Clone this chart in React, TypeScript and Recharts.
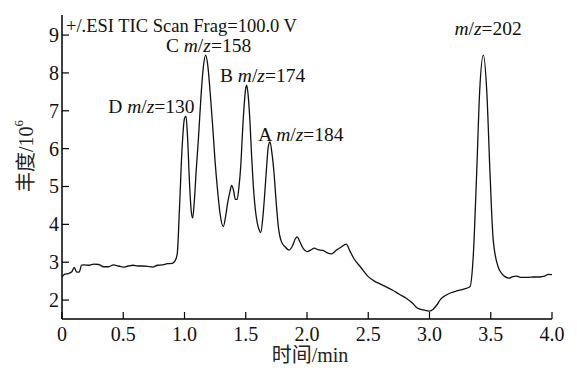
import { LineChart, Line, XAxis, YAxis, ReferenceDot } from "recharts";

// retention time (min) and abundance (x10^6)
const tiempos = [
  0, 0.02, 0.05, 0.08, 0.1, 0.12, 0.14, 0.16, 0.18, 0.22, 0.26, 0.3, 0.34, 0.38, 0.42, 0.46, 0.5,
  0.54, 0.58, 0.62, 0.66, 0.7, 0.74, 0.78, 0.82, 0.86, 0.9, 0.92, 0.94, 0.96, 0.98, 1.0, 1.012,
  1.025, 1.04, 1.055, 1.067, 1.08, 1.095, 1.113, 1.135, 1.154, 1.173, 1.19, 1.208, 1.23, 1.249,
  1.27, 1.29, 1.317, 1.335, 1.352, 1.37, 1.385, 1.4, 1.415, 1.43, 1.445, 1.459, 1.473, 1.486, 1.5,
  1.508, 1.52, 1.535, 1.548, 1.562, 1.578, 1.594, 1.61, 1.622, 1.64, 1.657, 1.672, 1.684, 1.698,
  1.713, 1.731, 1.748, 1.766, 1.79, 1.82, 1.855, 1.88, 1.905, 1.92, 1.94, 1.97, 2.0, 2.03, 2.06,
  2.09, 2.13, 2.17, 2.2, 2.24, 2.28, 2.32, 2.35, 2.38, 2.44, 2.5, 2.55, 2.6, 2.65, 2.7, 2.75, 2.81,
  2.86, 2.9, 2.95, 3.0, 3.03, 3.06, 3.09, 3.13, 3.18, 3.22, 3.28, 3.33, 3.357, 3.385, 3.41, 3.44,
  3.467, 3.494, 3.52, 3.56, 3.59, 3.616, 3.65, 3.68, 3.71, 3.75, 3.8, 3.85, 3.9, 3.94, 3.97, 4.0,
];

const abundancias = [
  2.62, 2.68, 2.7, 2.75, 2.86, 2.74, 2.74, 2.92, 2.93, 2.92, 2.95, 2.94, 2.88, 2.88, 2.93, 2.9, 2.87,
  2.9, 2.92, 2.9, 2.9, 2.89, 2.87, 2.92, 2.93, 2.96, 2.97, 3.02, 3.2, 4.5, 6.0, 6.8, 6.86,
  6.3, 5.16, 4.35, 4.17, 4.6, 5.4, 6.23, 7.4, 8.16, 8.47, 8.2, 7.55, 6.6, 5.69,
  4.9, 4.29, 3.94, 4.2, 4.56, 4.85, 5.03, 4.9, 4.66, 4.66, 5.0, 5.53, 6.4, 7.1, 7.6,
  7.68, 7.4, 6.67, 5.8, 5.0, 4.4, 4.04, 3.85, 3.78, 4.2, 4.9, 5.6, 6.05, 6.18,
  5.9, 5.35, 4.6, 3.94, 3.55, 3.41, 3.32, 3.42, 3.62, 3.67, 3.55, 3.36, 3.28, 3.32, 3.37,
  3.33, 3.31, 3.24, 3.22, 3.32, 3.4, 3.48, 3.3, 3.11, 2.86, 2.62, 2.5, 2.42, 2.34, 2.26, 2.16, 2.05,
  1.92, 1.79, 1.74, 1.71, 1.76, 1.87, 2.02, 2.12, 2.2, 2.24, 2.29, 2.35, 3.15, 5.35, 7.55, 8.47,
  7.55, 5.35, 3.59, 2.88, 2.7, 2.62, 2.58, 2.62, 2.63, 2.6, 2.6, 2.61, 2.61, 2.63, 2.68, 2.67,
];

const ticksX = [0, 0.5, 1, 1.5, 2, 2.5, 3, 3.5, 4];
const ticksY = [2, 3, 4, 5, 6, 7, 8, 9];

// peak labels: compound letter, m/z value, anchor point (time, abundance)
const etiquetas = [
  { letra: "D ", mz: "130", t: 0.73, a: 6.94 },
  { letra: "C ", mz: "158", t: 1.196, a: 8.55 },
  { letra: "B ", mz: "174", t: 1.637, a: 7.76 },
  { letra: "A ", mz: "184", t: 1.951, a: 6.2 },
  { letra: "", mz: "202", t: 3.478, a: 9.0 },
];

const titulo = "+/.ESI TIC Scan Frag=100.0 V";

const datos = tiempos.map((t, i) => ({ t, a: abundancias[i] }));

const FUENTE = "'Liberation Serif', 'Times New Roman', 'Noto Sans CJK SC', serif";

function TickX({ x, y, payload }: any) {
  const v = payload.value;
  return (
    <text x={x} y={y} dy="0.71em" textAnchor="middle" fontFamily={FUENTE} fontSize={20} fill="#111">
      {v === 0 ? "0" : v.toFixed(1)}
    </text>
  );
}

function TickY({ x, y, payload }: any) {
  return (
    <text x={x} y={y} dy="0.35em" textAnchor="end" fontFamily={FUENTE} fontSize={20} fill="#111">
      {payload.value}
    </text>
  );
}

function TextoPico({ cx, cy, letra, mz }: any) {
  return (
    <text x={cx} y={cy} textAnchor="middle" fontFamily={FUENTE} fontSize={19.5} fill="#111">
      {letra}
      <tspan fontStyle="italic">m</tspan>/<tspan fontStyle="italic">z</tspan>={mz}
    </text>
  );
}

function TextoTitulo({ cx, cy }: any) {
  return (
    <text x={cx} y={cy} textAnchor="start" fontFamily={FUENTE} fontSize={18.5} fill="#111">
      {titulo}
    </text>
  );
}

function EtiquetaY() {
  return (
    <text
      x={26}
      y={156}
      transform="rotate(-90 26 156)"
      textAnchor="middle"
      dominantBaseline="central"
      fontFamily={FUENTE}
      fontSize={20}
      fill="#222"
    >
      丰度/10
      <tspan dy={-8} fontSize={13}>
        6
      </tspan>
    </text>
  );
}

function EtiquetaX() {
  return (
    <text x={310} y={362} textAnchor="middle" fontFamily={FUENTE} fontSize={20} fill="#222">
      时间/min
    </text>
  );
}

export default function App() {
  return (
    <div style={{ position: "absolute", left: 0, top: 0, width: 577, height: 376, background: "#fff" }}>
      <LineChart
        width={577}
        height={376}
        data={datos}
        margin={{ top: 15, right: 25, bottom: 27, left: 22 }}
      >
        <XAxis
          dataKey="t"
          type="number"
          domain={[0, 4]}
          ticks={ticksX}
          allowDataOverflow
          height={30}
          tickSize={-7}
          tickMargin={15}
          axisLine={{ stroke: "#000", strokeWidth: 1.5 }}
          tickLine={{ stroke: "#000", strokeWidth: 1.2 }}
          tick={<TickX />}
          label={<EtiquetaX />}
        />
        <XAxis
          xAxisId="top"
          orientation="top"
          type="number"
          domain={[0, 4]}
          height={0}
          tick={false}
          tickLine={false}
          axisLine={{ stroke: "#aaa", strokeWidth: 3 }}
        />
        <YAxis
          type="number"
          domain={[1.5, 9.53]}
          ticks={ticksY}
          allowDataOverflow
          width={40}
          tickSize={-7}
          tickMargin={10}
          axisLine={{ stroke: "#000", strokeWidth: 1.5 }}
          tickLine={{ stroke: "#000", strokeWidth: 1.2 }}
          tick={<TickY />}
          label={<EtiquetaY />}
        />
        <YAxis
          yAxisId="right"
          orientation="right"
          type="number"
          domain={[1.5, 9.53]}
          width={0}
          tick={false}
          tickLine={false}
          axisLine={{ stroke: "#999", strokeWidth: 1.2 }}
        />
        <Line
          type="monotone"
          dataKey="a"
          stroke="#111"
          strokeWidth={1.3}
          dot={false}
          isAnimationActive={false}
        />
        <ReferenceDot x={0.033} y={9.08} r={1} shape={(p: any) => <TextoTitulo {...p} />} />
        {etiquetas.map((e) => (
          <ReferenceDot
            key={e.mz}
            x={e.t}
            y={e.a}
            r={1}
            shape={(p: any) => <TextoPico {...p} letra={e.letra} mz={e.mz} />}
          />
        ))}
      </LineChart>
    </div>
  );
}
